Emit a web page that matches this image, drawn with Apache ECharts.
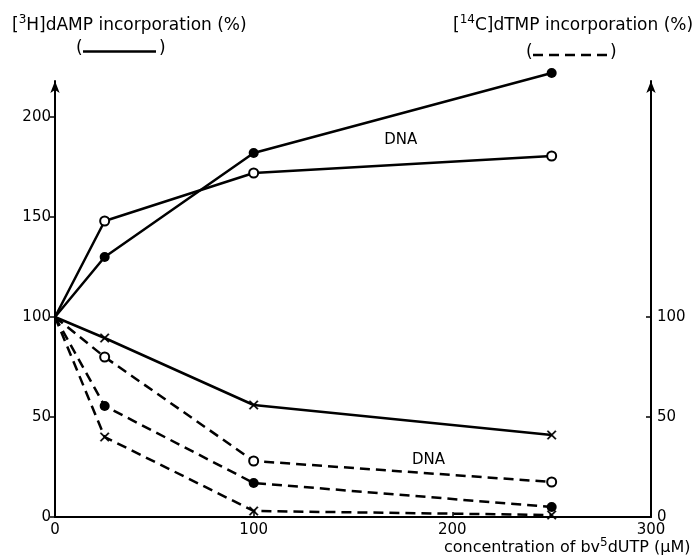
<!DOCTYPE html>
<html>
<head>
<meta charset="utf-8">
<script src="https://cdn.jsdelivr.net/npm/echarts@6/dist/echarts.min.js"></script>
<style>html,body{margin:0;padding:0;background:#fff}#c{width:696px;height:558px}</style>
</head>
<body>
<div id="c"></div>
<script>
// concentration of bv5dUTP (µM)
const conc = [0, 25, 100, 250];
// [3H]dAMP incorporation (%) — solid lines, left axis
const dampFilled = [100, 130, 182, 222];
const dampOpen = [100, 148, 172, 180.5];
const dampCross = [100, 89.5, 56, 41];
// [14C]dTMP incorporation (%) — dashed lines, right axis
const dtmpOpen = [100, 80, 28, 17.5];
const dtmpFilled = [100, 55.5, 17, 5];
const dtmpCross = [100, 40, 3, 1];
// ticks
const xTicks = [0, 100, 200, 300];
const leftTicks = [0, 50, 100, 150, 200];
const rightTicks = [0, 50, 100];
// "DNA" annotations [x, y] in data units
const dnaSolid = [[174, 188.5]];
const dnaDashed = [[188, 28.5]];

const FONT = 'DejaVu Sans';
const crossPath = 'path://M1,0 L5,4 L9,0 L10,1 L6,5 L10,9 L9,10 L5,6 L1,10 L0,9 L4,5 L0,1 Z';

function mk(vals, kind, dashed, yIdx) {
  let symbol, size, itemStyle;
  if (kind === 'filled') { symbol = 'circle'; size = 10; itemStyle = {color: '#000', borderColor: '#000', borderWidth: 0}; }
  else if (kind === 'open') { symbol = 'circle'; size = 9; itemStyle = {color: '#fff', borderColor: '#000', borderWidth: 2}; }
  else { symbol = crossPath; size = 9; itemStyle = {color: '#000', borderColor: '#000', borderWidth: 0.5}; }
  return {
    type: 'line',
    yAxisIndex: yIdx,
    clip: false,
    z: kind === 'open' ? 3 : 2,
    symbolSize: size,
    itemStyle: itemStyle,
    lineStyle: {color: '#000', width: 2.5, type: dashed ? [10, 6] : 'solid'},
    animation: false,
    data: conc.map((c, i) => ({value: [c, vals[i]], symbol: i === 0 ? 'none' : symbol}))
  };
}

const supStyle = {fontFamily: FONT, fontSize: 12, verticalAlign: 'top', lineHeight: 13, color: '#000'};
const dnaLabel = {show: true, position: 'inside', formatter: 'DNA', color: '#000', fontFamily: FONT, fontSize: 15, opacity: 1};

const chart = echarts.init(document.getElementById('c'), null, {renderer: 'canvas'});
chart.setOption({
  backgroundColor: '#fff',
  animation: false,
  textStyle: {fontFamily: FONT, color: '#000'},
  grid: {left: 55, right: 45, top: 81, bottom: 41},
  title: [
    {
      left: 7, top: 9,
      text: '[{sup|3}H]dAMP incorporation (%)',
      textStyle: {fontFamily: FONT, fontSize: 17, fontWeight: 'normal', color: '#000', lineHeight: 23, rich: {sup: supStyle}}
    },
    {
      left: 448, top: 9,
      text: '[{sup|14}C]dTMP incorporation (%)',
      textStyle: {fontFamily: FONT, fontSize: 17, fontWeight: 'normal', color: '#000', lineHeight: 23, rich: {sup: supStyle}}
    },
    {
      left: 439, top: 532,
      text: 'concentration of bv{sup|5}dUTP (µM)',
      textStyle: {fontFamily: FONT, fontSize: 16, fontWeight: 'normal', color: '#000', lineHeight: 21, rich: {sup: supStyle}}
    }
  ],
  graphic: [
    {type: 'text', left: 76, top: 40, style: {text: '(', font: '17px ' + FONT, fill: '#000'}},
    {type: 'line', shape: {x1: 83, y1: 51.5, x2: 156, y2: 51.5}, style: {stroke: '#000', lineWidth: 2.5}},
    {type: 'text', left: 159, top: 40, style: {text: ')', font: '17px ' + FONT, fill: '#000'}},
    {type: 'text', left: 526, top: 44, style: {text: '(', font: '17px ' + FONT, fill: '#000'}},
    {type: 'line', shape: {x1: 533, y1: 55, x2: 607, y2: 55}, style: {stroke: '#000', lineWidth: 2.5, lineDash: [10, 6]}},
    {type: 'text', left: 610, top: 44, style: {text: ')', font: '17px ' + FONT, fill: '#000'}}
  ],
  xAxis: {
    type: 'value', min: 0, max: 300, interval: 100,
    splitLine: {show: false},
    axisLine: {lineStyle: {color: '#000', width: 2}},
    axisTick: {inside: true, length: 5, lineStyle: {color: '#000', width: 1.5}},
    axisLabel: {color: '#000', fontFamily: FONT, fontSize: 15, margin: 6}
  },
  yAxis: [
    {
      type: 'value', position: 'left', min: 0, max: 218,
      splitLine: {show: false},
      axisLine: {show: true, symbol: ['none', 'arrow'], symbolSize: [7, 12], lineStyle: {color: '#000', width: 2}},
      axisTick: {show: true, length: 5, customValues: leftTicks, lineStyle: {color: '#000', width: 1.5}},
      axisLabel: {color: '#000', fontFamily: FONT, fontSize: 15, margin: 4, customValues: leftTicks}
    },
    {
      type: 'value', position: 'right', min: 0, max: 218,
      splitLine: {show: false},
      axisLine: {show: true, symbol: ['none', 'arrow'], symbolSize: [7, 12], lineStyle: {color: '#000', width: 2}},
      axisTick: {show: true, inside: true, length: 5, customValues: rightTicks, lineStyle: {color: '#000', width: 1.5}},
      axisLabel: {color: '#000', fontFamily: FONT, fontSize: 15, margin: 6, customValues: rightTicks}
    }
  ],
  series: [
    mk(dampFilled, 'filled', false, 0),
    mk(dampOpen, 'open', false, 0),
    mk(dampCross, 'cross', false, 0),
    mk(dtmpOpen, 'open', true, 1),
    mk(dtmpFilled, 'filled', true, 1),
    mk(dtmpCross, 'cross', true, 1),
    {
      type: 'scatter', yAxisIndex: 0, symbolSize: 0, itemStyle: {color: '#000'}, silent: true, z: 5,
      label: dnaLabel, data: dnaSolid
    },
    {
      type: 'scatter', yAxisIndex: 1, symbolSize: 0, itemStyle: {color: '#000'}, silent: true, z: 5,
      label: dnaLabel, data: dnaDashed
    }
  ]
});
</script>
</body>
</html>
